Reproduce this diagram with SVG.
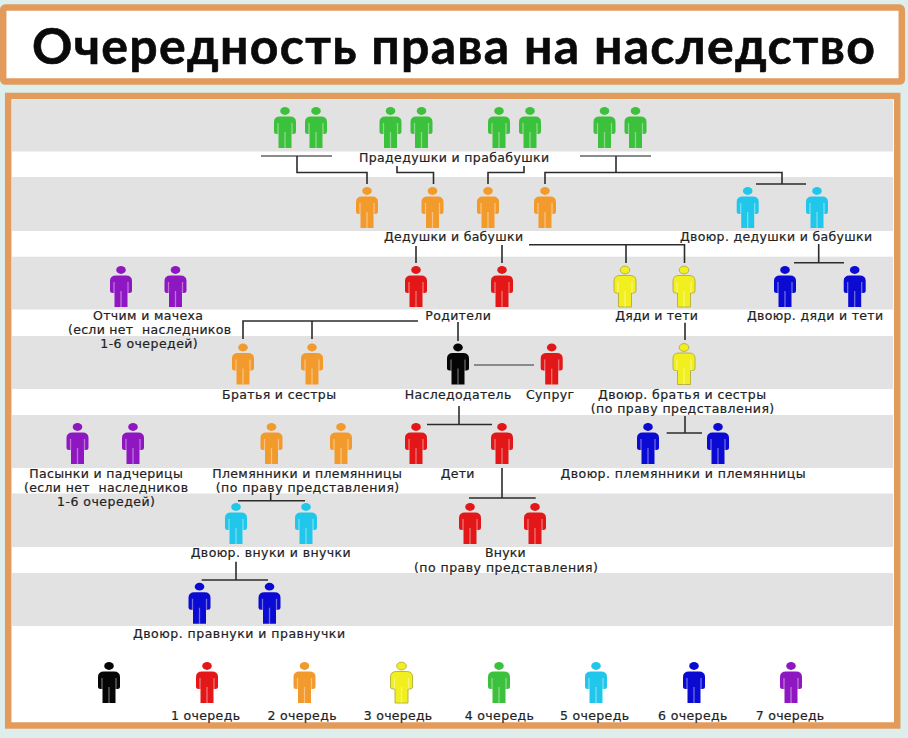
<svg xmlns="http://www.w3.org/2000/svg" width="908" height="738" viewBox="0 0 908 738">
<style>
.f{fill:#fff;stroke:#e39b5c;stroke-width:6.5}
.b{fill:#e2e2e2}
.k{stroke:#2c2c2c;stroke-width:1.6;fill:none}
.m{stroke:#8a8a8a;stroke-width:1.8;fill:none}
text{font-family:"DejaVu Sans","Liberation Sans",sans-serif;font-size:12.5px;fill:#222;text-anchor:middle;stroke:#222;stroke-width:.2}
text.t{font-family:"Lato","Open Sans",sans-serif;font-size:50px;font-weight:700;fill:#0a0a0a;stroke:#0a0a0a;stroke-width:.6}
.bk{color:#050505}.r{color:#e31717}.o{color:#f39a2c}.y{color:#f1f01e;stroke:#b3ab3c;stroke-width:.9}
.g{color:#3cc13c}.c{color:#20c7ea}.u{color:#0a0ad2}.v{color:#8e17c2}
.s{stroke:#fff;stroke-opacity:.4;stroke-width:1.3;fill:none}
</style>
<defs>
<g id="p">
<ellipse cx="0" cy="4" rx="4.8" ry="3.9" fill="currentColor"/>
<path fill="currentColor" d="M-5 9.500H5Q11 9.500 11 15V25Q11 27 8.500 27H6.500V41H-6.500V27H-8.500Q-11 27-11 25V15Q-11 9.500-5 9.500Z"/>
<path class="s" d="M0 25V41M-7 16V27M7 16V27"/>
</g>
</defs>
<rect width="908" height="738" fill="#deeeed"/>
<g id="title">
<rect class="f" x="3.2" y="7.600" width="898.600" height="74" rx="2"/>
<text class="t" x="453.500" y="64" textLength="843" lengthAdjust="spacing">Очередность права на наследство</text>
</g>
<g id="panel">
<rect class="f" x="8.200" y="96" width="889" height="629.500"/>
<rect class="b" x="12" y="100" width="881" height="51.500"/>
<rect class="b" x="12" y="177" width="881" height="54"/>
<rect class="b" x="12" y="256.700" width="881" height="52.800"/>
<rect class="b" x="12" y="336" width="881" height="53"/>
<rect class="b" x="12" y="415" width="881" height="53"/>
<rect class="b" x="12" y="493.500" width="881" height="53.500"/>
<rect class="b" x="12" y="573" width="881" height="53"/>
</g>
<g id="connectors">
<path class="m" d="M261 156H332M580 156H651"/>
<path class="k" d="M297 156V172.500H367V184M397 166V172.500H433.500V184M524 166V172.500H488V184M616 156V172.500M545 184V172.500H782V184M756 184H806"/>
<path class="k" d="M416 246V263M502 245V263M529 244.700H684.500V263M626 245V263M818.700 244V262.700M794 262.700H844"/>
<path class="k" d="M243 339V321H418M312 321V339M458 322V341M685 322.700V340"/>
<path class="m" d="M474 365H534"/>
<path class="k" d="M459 406V424.500M427 424.500H492M685 416V433M666.700 433H702"/>
<path class="k" d="M502 468V498M469 498H535.700M270.700 493V500.700M238 500.700H305M236 561.700V580M201.700 580H268"/>
</g>
<g id="great-grandparents" class="g">
<use href="#p" x="285" y="107"/><use href="#p" x="316" y="107"/><use href="#p" x="390.500" y="107"/><use href="#p" x="421.500" y="107"/><use href="#p" x="499" y="107"/><use href="#p" x="530" y="107"/><use href="#p" x="604.500" y="107"/><use href="#p" x="635.500" y="107"/>
<text x="454" y="162" textLength="190" lengthAdjust="spacing">Прадедушки и прабабушки</text>
</g>
<g id="grandparents" class="o">
<use href="#p" x="367" y="187"/><use href="#p" x="432.500" y="187"/><use href="#p" x="488" y="187"/><use href="#p" x="545" y="187"/>
<text x="453.500" y="241" textLength="139" lengthAdjust="spacing">Дедушки и бабушки</text>
</g>
<g id="cousin-grandparents" class="c">
<use href="#p" x="747.700" y="187"/><use href="#p" x="817" y="187"/>
<text x="776" y="241" textLength="192" lengthAdjust="spacing">Двоюр. дедушки и бабушки</text>
</g>
<g id="step-parents" class="v">
<use href="#p" x="121" y="266"/><use href="#p" x="175.500" y="266"/>
<text x="148" y="320" textLength="110" lengthAdjust="spacing">Отчим и мачеха</text>
<text x="149.500" y="333.500" textLength="163" lengthAdjust="spacing" xml:space="preserve">(если нет  наследников</text>
<text x="149" y="347.500" textLength="97.500" lengthAdjust="spacing">1-6 очередей)</text>
</g>
<g id="parents" class="r">
<use href="#p" x="416" y="266"/><use href="#p" x="502" y="266"/>
<text x="458" y="320" textLength="65.500" lengthAdjust="spacing">Родители</text>
</g>
<g id="uncles-aunts" class="y">
<use href="#p" x="625" y="266"/><use href="#p" x="684" y="266"/>
</g>
<g id="uncles-aunts-label"><text x="656.500" y="320" textLength="82.500" lengthAdjust="spacing">Дяди и тети</text></g>
<g id="cousin-uncles-aunts" class="u">
<use href="#p" x="785" y="266"/><use href="#p" x="854.700" y="266"/>
<text x="815" y="320" textLength="136" lengthAdjust="spacing">Двоюр. дяди и тети</text>
</g>
<g id="siblings" class="o">
<use href="#p" x="243" y="343.500"/><use href="#p" x="312" y="343.500"/>
<text x="279" y="399" textLength="114" lengthAdjust="spacing">Братья и сестры</text>
</g>
<g id="testator" class="bk">
<use href="#p" x="458" y="343.500"/>
<text x="458" y="399" textLength="106.500" lengthAdjust="spacing">Наследодатель</text>
</g>
<g id="spouse" class="r">
<use href="#p" x="551.700" y="343.500"/>
<text x="550" y="399" textLength="48" lengthAdjust="spacing">Супруг</text>
</g>
<g id="cousins" class="y">
<use href="#p" x="684" y="343.500"/>
</g>
<g id="cousins-label">
<text x="682" y="399" textLength="168" lengthAdjust="spacing">Двоюр. братья и сестры</text>
<text x="682.500" y="412.500" textLength="183.500" lengthAdjust="spacing">(по праву представления)</text>
</g>
<g id="step-children" class="v">
<use href="#p" x="77.500" y="423"/><use href="#p" x="133" y="423"/>
<text x="106" y="478" textLength="153.500" lengthAdjust="spacing">Пасынки и падчерицы</text>
<text x="106" y="491.700" textLength="164" lengthAdjust="spacing" xml:space="preserve">(если нет  наследников</text>
<text x="106" y="505.700" textLength="98" lengthAdjust="spacing">1-6 очередей)</text>
</g>
<g id="nephews" class="o">
<use href="#p" x="271.500" y="423"/><use href="#p" x="341" y="423"/>
<text x="307" y="478" textLength="189.500" lengthAdjust="spacing">Племянники и племянницы</text>
<text x="307.500" y="491.700" textLength="183.500" lengthAdjust="spacing">(по праву представления)</text>
</g>
<g id="children" class="r">
<use href="#p" x="416" y="423"/><use href="#p" x="502" y="423"/>
<text x="457.500" y="478" textLength="33.500" lengthAdjust="spacing">Дети</text>
</g>
<g id="cousin-nephews" class="u">
<use href="#p" x="648" y="423"/><use href="#p" x="718" y="423"/>
<text x="683" y="478" textLength="245" lengthAdjust="spacing">Двоюр. племянники и племянницы</text>
</g>
<g id="cousin-grandchildren" class="c">
<use href="#p" x="236" y="503"/><use href="#p" x="306" y="503"/>
<text x="270.700" y="557" textLength="160" lengthAdjust="spacing">Двоюр. внуки и внучки</text>
</g>
<g id="grandchildren" class="r">
<use href="#p" x="470" y="503"/><use href="#p" x="535" y="503"/>
<text x="505.300" y="557" textLength="40.700" lengthAdjust="spacing">Внуки</text>
<text x="506" y="571.700" textLength="184" lengthAdjust="spacing">(по праву представления)</text>
</g>
<g id="cousin-great-grandchildren" class="u">
<use href="#p" x="199.500" y="582.700"/><use href="#p" x="269.500" y="582.700"/>
<text x="239" y="637.700" textLength="212" lengthAdjust="spacing">Двоюр. правнуки и правнучки</text>
</g>
<g id="legend-0" class="bk"><use href="#p" x="109" y="662"/></g>
<g id="legend-1" class="r"><use href="#p" x="207" y="662"/><text x="205.500" y="720" textLength="69" lengthAdjust="spacing">1 очередь</text></g>
<g id="legend-2" class="o"><use href="#p" x="304.500" y="662"/><text x="302" y="720" textLength="69" lengthAdjust="spacing">2 очередь</text></g>
<g id="legend-3" class="y"><use href="#p" x="401.500" y="662"/></g>
<g id="legend-3-label"><text x="398" y="720" textLength="68.300" lengthAdjust="spacing">3 очередь</text></g>
<g id="legend-4" class="g"><use href="#p" x="499" y="662"/><text x="499.300" y="720" textLength="69.300" lengthAdjust="spacing">4 очередь</text></g>
<g id="legend-5" class="c"><use href="#p" x="596" y="662"/><text x="594.500" y="720" textLength="69" lengthAdjust="spacing">5 очередь</text></g>
<g id="legend-6" class="u"><use href="#p" x="694" y="662"/><text x="692.700" y="720" textLength="69.300" lengthAdjust="spacing">6 очередь</text></g>
<g id="legend-7" class="v"><use href="#p" x="791" y="662"/><text x="790" y="720" textLength="68.300" lengthAdjust="spacing">7 очередь</text></g>
</svg>
